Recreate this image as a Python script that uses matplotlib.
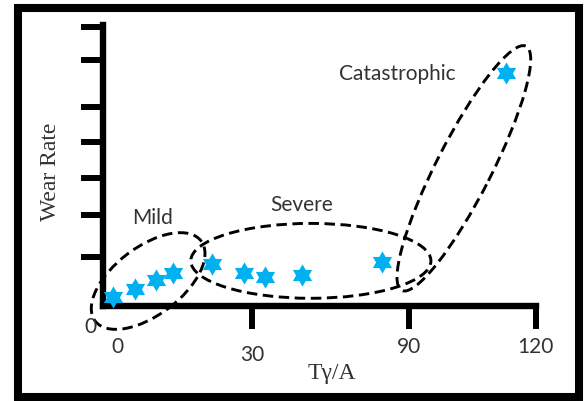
import numpy as np
import matplotlib
matplotlib.use("Agg")
import matplotlib.pyplot as plt
from matplotlib.patches import Ellipse, Rectangle
from matplotlib.path import Path

# =========================
# Data (schematic wear map)
# =========================
wear_x = [2.6, 8.75, 14.6, 19.3, 30.1, 39.0, 44.9, 55.1, 77.4, 111.8]
wear_y = [2.4, 4.6, 7.1, 9.0, 11.5, 9.0, 7.9, 8.5, 12.1, 64.6]

xtick_pos = [3.75, 41.25, 84.9, 120]
xtick_labels = ["0", "30", "90", "120"]
ytick_pos = [13.5, 25.1, 35.4, 45.4, 55.1, 68.2, 77.4]

regimes = ["Mild", "Severe", "Catastrophic"]
regime_text_xy = [(13.5, 24.3), (55.1, 27.9), (81.5, 64.3)]
# center, width, height, angle
regime_ellipses = [((12.4, 6.8), 36.9, 18.9, 37),
                   ((57.6, 12.4), 66.7, 20.8, 0),
                   ((100.1, 38.1), 76.1, 15.3, 63)]

SANS = ["Lato", "DejaVu Sans"]
SERIF = ["Liberation Serif", "DejaVu Serif"]
TXT = "#333333"

fig = plt.figure(figsize=(5.84, 4.01), dpi=100)
W, H = 584, 401
ax = fig.add_axes([103.5 / W, 1 - 305.5 / H, 432 / W, 280.5 / H])
ax.set_xlim(0, 120)
ax.set_ylim(0, 77.9)

for s in ["top", "right"]:
    ax.spines[s].set_visible(False)
for s in ["left", "bottom"]:
    ax.spines[s].set_linewidth(4.6)

ax.set_xticks(xtick_pos)
ax.set_xticklabels(xtick_labels, family=SANS, color=TXT)
ax.set_yticks(ytick_pos)
ax.tick_params(axis="x", direction="out", length=16.5, width=4.3, pad=6,
               labelsize=15)
ax.tick_params(axis="y", direction="out", length=16, width=4.3,
               labelleft=False)
ticks = ax.xaxis.get_major_ticks()
ticks[0].tick1line.set_visible(False)
ticks[1].tick1line.set_markersize(19)
ticks[1].set_pad(12)

ax.text(-3.75, -6, "0", ha="center", va="center", fontsize=15,
        family=SANS, color=TXT, clip_on=False)

# regime ellipses
for (c, w, h, a) in regime_ellipses:
    ax.add_patch(Ellipse(c, w, h, angle=a, fill=False, ec="black", lw=2.1,
                         ls=(0, (3.6, 1.9)), clip_on=False, zorder=2))

for name, (tx, ty) in zip(regimes, regime_text_xy):
    ax.text(tx, ty, name, ha="center", va="center", fontsize=15,
            family=SANS, color=TXT)

hexagram = Path.unit_regular_star(6, 0.58)
ax.plot(wear_x, wear_y, linestyle="none", marker=hexagram, ms=16,
        color="#00B0F0", mec="none", clip_on=False, zorder=3)

fig.text(50 / W, 1 - 172 / H, "Wear Rate", rotation=90, ha="center",
         va="center", fontsize=17, family=SERIF, color=TXT)
fig.text(332 / W, 1 - 373 / H, "Tγ/A", ha="center", va="center",
         fontsize=17, family=SERIF, color=TXT)

# outer frame
fig.add_artist(Rectangle((18 / W, 1 - 397 / H), 561 / W, 389 / H,
                         transform=fig.transFigure, fill=False,
                         ec="black", lw=5.8))

fig.savefig("out.png", dpi=100)
